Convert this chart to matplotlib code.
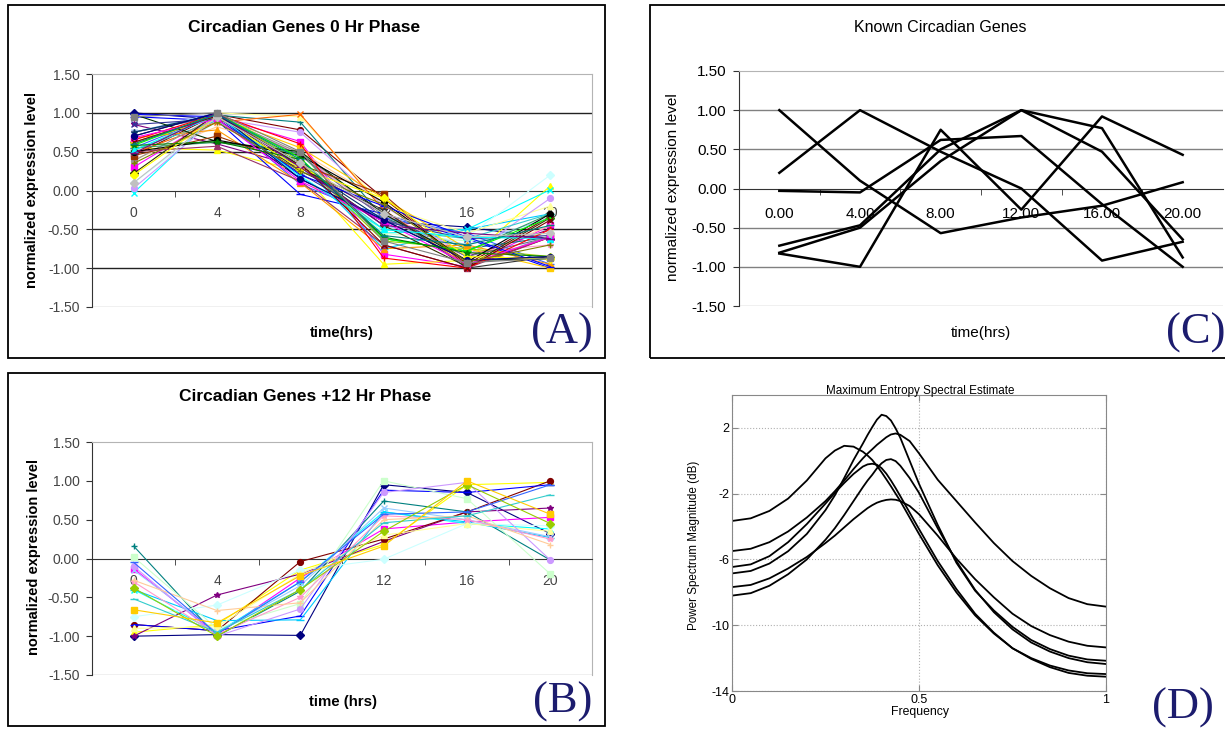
import numpy as np
import matplotlib.pyplot as plt
from matplotlib.patches import Rectangle

plt.rcParams['font.family'] = ['Liberation Sans', 'DejaVu Sans']
plt.rcParams['axes.unicode_minus'] = False

W, H = 1225, 731

# ---------------- data ----------------
time_labels_ab = ["0", "4", "8", "12", "16", "20"]
time_labels_c = ["0.00", "4.00", "8.00", "12.00", "16.00", "20.00"]
y_ticks = [-1.5, -1.0, -0.5, 0.0, 0.5, 1.0, 1.5]

# panel A: genes peaking at 0 hr phase (one row per gene, 0..20 hrs)
genes_0hr = [
    [1.00, 0.92, 0.15, -0.40, -0.47, -0.62],
    [0.30, 0.95, 0.63, -0.82, -0.98, -0.45],
    [0.55, 0.52, 0.25, -0.95, -0.90, 0.06],
    [-0.03, 0.98, 0.20, -0.55, -0.50, 0.01],
    [0.85, 0.60, 0.30, -0.30, -0.85, -0.50],
    [0.45, 0.98, 0.78, -0.10, -0.95, -0.33],
    [0.75, 0.97, 0.88, -0.35, -0.75, -0.60],
    [0.95, 0.90, -0.05, -0.30, -0.62, -1.00],
    [0.50, 0.98, 0.35, -0.75, -0.50, -0.30],
    [0.10, 0.90, 0.20, -0.50, -0.60, 0.20],
    [0.60, 0.95, 0.40, -0.55, -0.65, -0.55],
    [0.50, 1.00, 0.95, -0.20, -0.55, -0.20],
    [0.75, 1.00, 0.30, -0.45, -0.70, -0.35],
    [0.65, 0.98, 0.45, -0.30, -0.80, -0.70],
    [0.03, 0.93, 0.75, -0.20, -0.85, -0.10],
    [0.40, 0.82, 0.50, -0.15, -0.90, -0.45],
    [0.55, 0.98, 0.08, -0.35, -0.55, -0.95],
    [0.52, 0.90, 0.30, -0.50, -0.62, -0.30],
    [0.62, 0.97, 0.38, -0.65, -0.75, -0.85],
    [0.60, 0.95, 0.55, -0.10, -0.75, -1.00],
    [0.68, 0.78, 0.10, -0.75, -0.70, -0.95],
    [0.48, 0.88, 0.98, -0.25, -0.97, -0.60],
    [0.75, 0.95, 0.45, -0.35, -0.85, -0.60],
    [0.38, 0.96, 0.48, -0.30, -0.97, -0.58],
    [0.75, 0.98, 0.32, -0.38, -0.90, -0.85],
    [0.55, 0.62, 0.48, -0.62, -0.78, -0.30],
    [0.98, 0.63, 0.50, -0.30, -0.90, -0.88],
    [0.22, 0.99, 0.32, -0.45, -0.98, -0.35],
    [0.45, 0.70, 0.33, -0.05, -0.98, -0.60],
    [0.50, 0.57, 0.12, -0.70, -1.00, -0.60],
    [0.85, 0.92, 0.22, -0.40, -0.62, -0.58],
    [0.70, 1.00, 0.25, -0.25, -1.00, -0.85],
    [0.50, 0.65, 0.45, -0.15, -0.92, -0.30],
    [0.65, 0.98, 0.60, -0.87, -1.00, -0.50],
    [0.58, 0.99, 0.42, -0.62, -0.78, -0.35],
    [0.98, 0.95, 0.20, -0.20, -0.60, -0.98],
    [0.20, 0.95, 0.28, -0.10, -0.85, -0.88],
    [0.68, 0.92, 0.12, -0.40, -0.95, -0.60],
    [0.52, 0.97, 0.18, -0.50, -0.60, -0.62],
    [0.62, 0.96, 0.35, -0.70, -1.00, -0.38],
    [0.58, 0.63, 0.40, -0.60, -0.80, -0.85],
    [0.70, 1.00, 0.15, -0.38, -0.90, -0.85],
    [0.35, 0.88, 0.25, -0.18, -0.92, -0.70],
    [0.48, 1.00, 0.30, -0.45, -0.55, -0.62],
    [0.60, 0.98, 0.40, -0.58, -0.70, -0.45],
    [0.10, 0.95, 0.35, -0.30, -0.60, -0.55],
    [0.95, 1.00, 0.50, -0.65, -0.93, -0.87],
]

# panel B: genes with +12 hr phase
genes_12hr = [
    [-1.00, -0.98, -0.99, 0.95, 0.85, 0.32],
    [-0.13, -0.98, -0.25, 0.38, 0.47, 0.53],
    [-0.95, -0.85, -0.15, 0.18, 0.95, 0.98],
    [-0.40, -0.95, -0.30, 0.60, 0.45, 0.38],
    [-1.00, -0.47, -0.20, 0.22, 0.60, 0.65],
    [-0.85, -0.93, -0.04, 0.25, 0.60, 1.00],
    [0.16, -1.00, -0.42, 0.74, 0.60, -0.02],
    [-0.85, -0.93, -0.74, 0.88, 0.85, 0.95],
    [-0.40, -0.80, -0.79, 0.60, 0.47, 0.27],
    [-0.75, -0.60, -0.15, -0.01, 0.45, 0.42],
    [0.02, -0.90, -0.58, 1.00, 0.77, -0.20],
    [-0.90, -0.88, -0.20, 0.30, 0.45, 0.35],
    [-0.15, -0.95, -0.35, 0.65, 0.50, 0.28],
    [-0.30, -0.98, -0.50, 0.55, 0.50, 0.25],
    [-0.10, -1.00, -0.65, 0.85, 0.98, -0.02],
    [-0.28, -0.67, -0.57, 0.50, 0.55, 0.18],
    [-0.05, -0.97, -0.30, 0.57, 0.60, 0.95],
    [-0.52, -0.95, -0.40, 0.46, 0.55, 0.82],
    [-0.38, -1.00, -0.40, 0.35, 0.95, 0.45],
    [-0.66, -0.83, -0.22, 0.16, 1.00, 0.57],
]

# panel C: known circadian genes
known_genes = [
    [1.00, 0.10, -0.57, -0.37, -0.22, 0.08],
    [0.20, 1.00, 0.47, 0.00, -0.92, -0.68],
    [-0.03, -0.05, 0.62, 0.67, -0.20, -1.00],
    [-0.73, -0.47, 0.50, 1.00, 0.77, -0.88],
    [-0.82, -0.50, 0.35, 1.00, 0.47, -0.65],
    [-0.83, -1.00, 0.75, -0.27, 0.92, 0.43],
]

# panel D: maximum entropy spectra (dB)
freq = [0, 0.05, 0.1, 0.15, 0.2, 0.25, 0.275, 0.3, 0.325, 0.35, 0.3625, 0.375, 0.3875,
        0.4, 0.4125, 0.425, 0.4375, 0.45, 0.475, 0.5, 0.55, 0.6, 0.65, 0.7, 0.75, 0.8,
        0.85, 0.9, 0.95, 1.0]
spectra = [
    [-3.66, -3.50, -3.05, -2.30, -1.20, 0.15, 0.62, 0.91, 0.86, 0.55, 0.32, 0.05, -0.31,
     -0.70, -1.12, -1.55, -2.00, -2.45, -3.45, -4.45, -6.35, -8.00, -9.40, -10.50, -11.40,
     -12.00, -12.45, -12.75, -12.92, -12.97],
    [-5.49, -5.35, -4.95, -4.30, -3.45, -2.45, -1.85, -1.20, -0.50, 0.15, 0.44, 0.70, 0.97,
     1.20, 1.43, 1.60, 1.66, 1.58, 1.20, 0.45, -1.15, -2.45, -3.75, -5.00, -6.10,
     -7.00, -7.75, -8.35, -8.72, -8.87],
    [-6.85, -6.70, -6.25, -5.50, -4.45, -3.00, -2.10, -1.05, 0.05, 1.05, 1.57, 2.05, 2.50,
     2.80, 2.72, 2.45, 1.97, 1.40, 0.00, -1.40, -3.90, -6.20, -7.90, -9.10, -10.10,
     -10.90, -11.45, -11.85, -12.08, -12.16],
    [-6.46, -6.30, -5.80, -4.95, -3.85, -2.60, -1.95, -1.35, -0.80, -0.35, -0.22, -0.18, -0.24,
     -0.45, -0.78, -1.20, -1.66, -2.15, -3.15, -4.15, -6.10, -7.80, -9.30, -10.45, -11.40,
     -12.05, -12.55, -12.90, -13.07, -13.13],
    [-8.20, -8.05, -7.60, -6.90, -6.00, -4.80, -4.10, -3.30, -2.45, -1.60, -1.20, -0.85, -0.46,
     -0.15, 0.05, 0.10, -0.02, -0.30, -1.05, -1.95, -4.10, -6.10, -7.85, -9.20, -10.25,
     -11.05, -11.60, -12.00, -12.25, -12.36],
    [-7.68, -7.55, -7.15, -6.55, -5.85, -5.00, -4.55, -4.05, -3.55, -3.10, -2.88, -2.70, -2.55,
     -2.45, -2.38, -2.35, -2.37, -2.45, -2.75, -3.25, -4.55, -5.95, -7.20, -8.30, -9.30,
     -10.05, -10.60, -11.00, -11.25, -11.35],
]

# excel 2003 default series colours and marker cycle
excel_colors = [
    '#000080', '#FF00FF', '#FFFF00', '#00FFFF', '#800080', '#800000', '#008080', '#0000FF',
    '#00CCFF', '#CCFFFF', '#CCFFCC', '#FFFF99', '#99CCFF', '#FF99CC', '#CC99FF', '#FFCC99',
    '#3366FF', '#33CCCC', '#99CC00', '#FFCC00', '#FF9900', '#FF6600', '#666699', '#969696',
    '#003366', '#339966', '#003300', '#333300', '#993300', '#993366', '#333399', '#333333',
    '#000000', '#FF0000', '#00FF00', '#0000FF', '#FFFF00', '#FF00FF', '#00FFFF', '#800000',
    '#008000', '#000080', '#808000', '#800080', '#008080', '#C0C0C0', '#808080',
]
excel_markers = ['D', 's', '^', 'x', '*', 'o', '+', '_', '_']
navy = '#1c1c6e'


def box(l, t, r, b):
    return [l / W, 1 - b / H, (r - l) / W, (b - t) / H]


def frame(l, t, r, b):
    fig.add_artist(Rectangle((l / W, 1 - b / H), (r - l) / W, (b - t) / H,
                             transform=fig.transFigure, fill=False, ec='black', lw=1.3))


def label(x, y, s, **kw):
    fig.text(x / W, 1 - y / H, s, ha='center', va='center', **kw)


def excel_axes(rect, xlabels, tsize, tcolor, xpad, grid_color=None):
    ax = fig.add_axes(rect)
    ax.set_xlim(-0.5, 5.5)
    ax.set_ylim(-1.5, 1.5)
    ax.set_yticks(y_ticks)
    ax.set_yticklabels([f"{v:.2f}" for v in y_ticks])
    ax.set_xticks(range(6))
    ax.set_xticklabels(xlabels)
    ax.set_xticks(np.arange(0.5, 5, 1), minor=True)
    ax.spines['bottom'].set_position(('data', 0))
    ax.spines['bottom'].set_color('#333333')
    ax.spines['left'].set_color('#333333')
    for s in ['top', 'right']:
        ax.spines[s].set_color('#b4b4b4')
    ax.axhline(-1.5, color='#b4b4b4', lw=1, zorder=1)
    ax.tick_params(axis='x', which='major', length=0, pad=xpad, labelsize=tsize, labelcolor=tcolor)
    ax.tick_params(axis='x', which='minor', length=4, direction='out', color='#333333')
    ax.tick_params(axis='y', length=4, direction='out', color='#333333', pad=5,
                   labelsize=tsize, labelcolor=tcolor)
    if grid_color:
        for v in (1.0, 0.5, -0.5, -1.0):
            ax.axhline(v, color=grid_color, lw=1, zorder=1)
    return ax


def gene_lines(ax, rows):
    x = np.arange(6)
    for i, vals in enumerate(rows):
        c = excel_colors[i % len(excel_colors)]
        m = excel_markers[i % len(excel_markers)]
        ms = 6 if m == '_' else 4.2
        ax.plot(x, vals, color=c, lw=0.8, marker=m, ms=ms, mfc=c, mec=c, mew=1, zorder=3)


fig = plt.figure(figsize=(W / 100, H / 100), dpi=100)

# ---------------- panel A ----------------
frame(8, 5, 605, 358)
axA = excel_axes(box(92, 74, 592, 307), time_labels_ab, 10, '#444444', 11, grid_color='#222222')
gene_lines(axA, genes_0hr)
label(304, 28, "Circadian Genes 0 Hr Phase", fontsize=12.5, fontweight='bold')
label(32, 190, "normalized expression level", fontsize=10.5, fontweight='bold', rotation=90)
label(342, 333, "time(hrs)", fontsize=10.8, fontweight='bold')
label(562, 333, "(A)", fontsize=32, color=navy, family='Liberation Serif')

# ---------------- panel B ----------------
frame(8, 373, 605, 726)
axB = excel_axes(box(92, 442, 592, 675), time_labels_ab, 10, '#444444', 11)
gene_lines(axB, genes_12hr)
label(305, 396, "Circadian Genes +12 Hr Phase", fontsize=12.5, fontweight='bold')
label(34, 557, "normalized expression level", fontsize=10.5, fontweight='bold', rotation=90)
label(343, 702, "time (hrs)", fontsize=10.8, fontweight='bold')
label(563, 702, "(B)", fontsize=32, color=navy, family='Liberation Serif')

# ---------------- panel C ----------------
frame(650, 5, 1230, 358)
axC = excel_axes(box(739, 71, 1223, 306), time_labels_c, 11, 'black', 13, grid_color='#808080')
axC.spines['right'].set_visible(False)
for vals in known_genes:
    axC.plot(np.arange(6), vals, color='black', lw=1.8, zorder=3)
label(940, 27, "Known Circadian Genes", fontsize=11.5)
label(673, 187, "normalized expression level", fontsize=11, rotation=90)
label(981, 333, "time(hrs)", fontsize=11)
label(1196, 333, "(C)", fontsize=32, color=navy, family='Liberation Serif')

# ---------------- panel D ----------------
axD = fig.add_axes(box(732, 395, 1106, 691))
for vals in spectra:
    axD.plot(freq, vals, color='black', lw=1.3)
axD.set_xlim(0, 1)
axD.set_ylim(-14, 4)
axD.set_xticks([0, 0.5, 1])
axD.set_xticklabels(["0", "0.5", "1"])
axD.set_yticks([-14, -10, -6, -2, 2])
axD.grid(True, linestyle=':', color='#b0b0b0', lw=0.8)
for s in axD.spines.values():
    s.set_color('#888888')
axD.tick_params(direction='in', length=4, color='#888888', labelsize=9, pad=2,
                top=True, right=True)
label(920, 391, "Maximum Entropy Spectral Estimate", fontsize=8.4)
label(920, 712, "Frequency", fontsize=8.8)
label(694, 545, "Power Spectrum Magnitude (dB)", fontsize=8.4, rotation=90)
label(1183, 708, "(D)", fontsize=32, color=navy, family='Liberation Serif')

fig.savefig("out.png", dpi=100)
